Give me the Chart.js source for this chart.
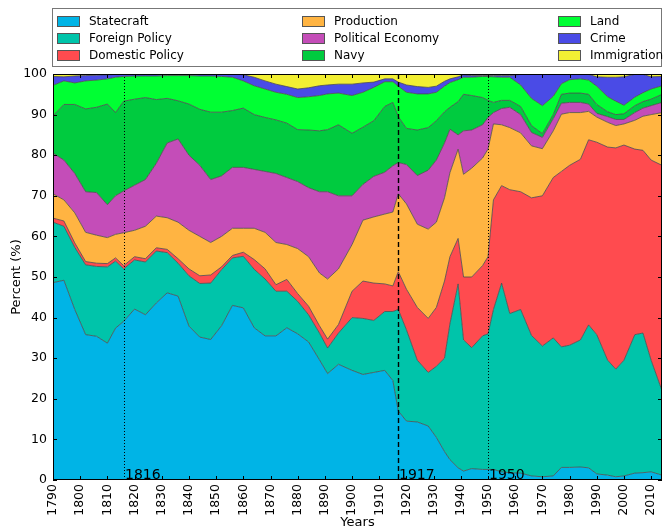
<!DOCTYPE html>
<html>
<head>
<meta charset="utf-8">
<script src="https://cdn.jsdelivr.net/npm/chart.js@4.4.1/dist/chart.umd.min.js"></script>
<style>
html, body { margin: 0; padding: 0; background: #fff; overflow: hidden; }
#wrap { position: relative; width: 666px; height: 528px; }
#legend {
    position: absolute; left: 52px; top: 8px; width: 610px; height: 59px;
    border: 1px solid #777; background: #fff; box-sizing: border-box;
    font: 12px "DejaVu Sans", sans-serif; color: #000; z-index: 2;
}
.item { position: absolute; height: 17px; line-height: 17px; white-space: nowrap; }
.sw { position: absolute; left: 0; top: 3px; width: 23px; height: 11px; border: 1px solid #555; box-sizing: border-box; }
.lbl { position: absolute; left: 32px; top: 0; }
</style>
</head>
<body>
<div id="wrap">
    <div id="legend"></div>
    <canvas id="chart" width="666" height="528"></canvas>
</div>
<script>
// Years sampled along the x axis
const years = [1790, 1794, 1798, 1802, 1806, 1810, 1813, 1816,
    1820, 1824, 1828, 1832, 1836, 1840, 1844, 1848, 1852, 1856, 1860, 1864, 1868, 1872, 1876, 1880, 1884, 1888,
    1891, 1895, 1900, 1904, 1908, 1912, 1915, 1917, 1920, 1924, 1928, 1931, 1934, 1936, 1939, 1941, 1944, 1948, 1950, 1952, 1955, 1958,
    1962, 1966, 1970, 1974, 1977, 1980, 1984, 1987, 1990, 1994, 1997, 2000, 2004, 2007, 2010, 2014];

// Share of each topic (percent), bottom of the stack first
const statecraft = [48.6, 49.2, 42, 35.8, 35.4, 33.7, 37.4, 39.1,
    42.1, 40.7, 43.6, 46.1, 45.3, 37.9, 35.2, 34.6, 38, 43, 42.4, 37.5, 35.5, 35.5, 37.5, 36, 34, 29.6,
    26.2, 28.5, 27, 26, 26.5, 27, 24.5, 17, 14.5, 14.3, 13.3, 10.5, 7, 5, 3, 2.2, 2.8, 2.6, 2.6, 2.6, 2, 1.8,
    1.7, 1, 0.8, 1, 3.1, 3.1, 3.2, 3, 1.5, 1.2, 0.8, 1, 1.7, 1.8, 2, 1.2];
const foreignPolicy = [14.9, 13.3, 15.3, 17.2, 17.2, 18.8, 16.5, 12.9,
    12.1, 13.0, 12.8, 9.9, 8.1, 12.4, 13.2, 13.9, 13.8, 11.7, 12.7, 14.4, 14.0, 11.0, 9.0, 8.0, 6.7, 6.6,
    6.3, 7.7, 13.0, 13.8, 12.8, 14.5, 17.0, 25.0, 22.5, 15.2, 13.2, 17.5, 23.0, 33.5, 45.3, 32.3, 29.8, 32.9, 33.4, 39.4, 46.5, 39.2,
    40.3, 34.6, 32.2, 34.0, 29.7, 30.1, 31.3, 35.2, 34.3, 28.3, 26.5, 28.5, 34.1, 34.4, 27.5, 20.8];
const domesticPolicy = [1.0, 1.3, 1.1, 0.8, 0.8, 0.8, 0.8, 0.8,
    0.8, 0.8, 0.8, 0.8, 1.1, 1.7, 1.9, 2.0, 0.7, 0.6, 1.0, 2.4, 2.5, 1.6, 2.9, 1.9, 2.1, 1.8,
    2.2, 2.1, 6.5, 9.2, 9.2, 6.8, 6.3, 9.3, 10.0, 13.0, 13.3, 14.5, 19.0, 16.5, 11.2, 15.5, 17.4, 17.3, 19.0, 27.0, 24.0, 30.5,
    29.0, 33.9, 37.0, 39.5, 43.2, 44.3, 44.5, 45.6, 47.4, 52.5, 54.5, 53.0, 45.7, 45.0, 49.3, 55.5];
const production = [6.0, 5.2, 7.4, 7.2, 6.9, 6.4, 5.8, 8.1,
    6.5, 8.0, 7.8, 7.8, 9.0, 9.5, 9.7, 8.0, 7.5, 6.7, 5.9, 7.7, 9.0, 10.4, 8.6, 11.1, 12.2, 13.0,
    14.8, 13.7, 11.5, 15.0, 16.3, 17.2, 18.2, 19.2, 21.0, 20.5, 22.0, 21.0, 20.5, 20.7, 22.0, 25.3, 26.8, 26.5, 26.5, 18.7, 15.0, 15.3,
    14.5, 12.8, 11.6, 11.5, 14.1, 13.0, 11.5, 7.0, 6.2, 6.1, 5.5, 5.2, 7.1, 8.4, 11.2, 13.0];
const politicalEconomy = [10.0, 9.8, 9.7, 10.0, 10.5, 8.1, 9.5, 10.3,
    11.1, 11.5, 13.0, 18.4, 20.5, 18.5, 17.5, 15.5, 14.9, 15.0, 15.0, 14.5, 15.0, 17.0, 16.5, 16.5, 17.0, 20.0,
    21.5, 18.0, 12.0, 8.8, 10.0, 10.3, 11.4, 7.7, 9.7, 12.0, 14.5, 15.3, 13.5, 10.7, 3.5, 10.7, 9.4, 8.2, 7.8, 2.8, 4.0, 5.0,
    4.5, 3.3, 2.8, 3.0, 2.7, 2.5, 2.5, 1.8, 0.9, 1.4, 1.5, 1.1, 1.9, 2.0, 2.2, 2.5];
const navy = [9.2, 13.7, 17.0, 20.4, 21.0, 24.8, 20.5, 22.1,
    21.2, 20.2, 15.7, 11.0, 9.4, 12.6, 13.8, 16.6, 15.7, 14.0, 14.6, 13.5, 13.3, 13.2, 13.4, 12.8, 14.2, 15.0,
    15.3, 17.5, 15.4, 14.1, 13.7, 16.2, 15.6, 11.3, 8.9, 11.2, 10.5, 9.7, 7.7, 5.4, 8.2, 9.0, 8.5, 6.7, 4.2, 2.5, 2.0, 1.7,
    2.0, 1.7, 0.9, 1.0, 2.2, 2.3, 2.3, 2.4, 2.2, 1.2, 1.2, 1.4, 1.7, 1.6, 1.6, 2.0];
const land = [7.5, 5.8, 5.3, 6.9, 6.7, 6.2, 8.7, 6.1,
    5.7, 5.3, 5.8, 5.6, 6.2, 7.0, 8.2, 8.9, 8.8, 8.2, 6.7, 7.1, 7.0, 6.8, 7.1, 7.9, 8.2, 8.7,
    8.8, 7.8, 9.3, 8.6, 8.2, 6.1, 5.1, 7.5, 8.9, 8.9, 8.3, 7.0, 6.3, 6.1, 5.4, 4.2, 4.5, 5.2, 5.9, 6.3, 5.7, 5.7,
    5.3, 6.7, 6.9, 4.5, 2.6, 3.3, 3.5, 3.5, 4.5, 3.7, 3.3, 2.1, 2.1, 2.2, 2.5, 2.1];
const crime = [2.2, 1.0, 1.7, 1.3, 1.2, 1.0, 0.7, 0.6,
    0.5, 0.5, 0.5, 0.4, 0.4, 0.4, 0.5, 0.5, 0.6, 0.8, 1.5, 2.1, 2.0, 2.0, 1.9, 2.1, 2.2, 2.4,
    2.2, 2.2, 2.8, 2.3, 1.3, 0.7, 0.7, 1.0, 1.8, 1.8, 1.6, 1.5, 1.2, 0.9, 0.7, 0.6, 0.4, 0.2, 0.2, 0.3, 0.4, 0.4,
    2.6, 5.9, 7.7, 5.4, 2.3, 1.3, 1.1, 1.4, 2.3, 4.8, 5.9, 7.0, 5.6, 4.5, 3.0, 2.3];
const immigration = [0.6, 0.7, 0.5, 0.4, 0.3, 0.2, 0.1, 0,
    0, 0, 0, 0, 0, 0, 0, 0, 0, 0, 0.2, 0.8, 1.7, 2.5, 3.1, 3.7, 3.4, 2.9,
    2.7, 2.5, 2.5, 2.2, 2.0, 1.2, 1.2, 2.0, 2.7, 3.1, 3.3, 3.0, 1.8, 1.2, 0.7, 0.2, 0.4, 0.4, 0.4, 0.4, 0.4, 0.4,
    0.1, 0.1, 0.1, 0.1, 0.1, 0.1, 0.1, 0.1, 0.7, 0.8, 0.8, 0.7, 0.1, 0.1, 0.7, 0.6];

const seriesNames = ['Statecraft', 'Foreign Policy', 'Domestic Policy', 'Production', 'Political Economy',
    'Navy', 'Land', 'Crime', 'Immigration'];
const seriesValues = [statecraft, foreignPolicy, domesticPolicy, production, politicalEconomy,
    navy, land, crime, immigration];
const seriesColors = ['#00b4e6', '#00c4aa', '#ff4b4f', '#ffb442', '#c44db8',
    '#00cb3f', '#00ff33', '#4a4be6', '#f2ef33'];

const xTicks = [1790, 1800, 1810, 1820, 1830, 1840, 1850, 1860, 1870, 1880, 1890,
    1900, 1910, 1920, 1930, 1940, 1950, 1960, 1970, 1980, 1990, 2000, 2010];
const yTicks = [0, 10, 20, 30, 40, 50, 60, 70, 80, 90, 100];

// Reference years marked with vertical lines
const markerYears = [1816, 1917, 1950];
const markerDash = [[1, 2], [5, 3], [1, 2]];
const markerWidth = [1, 1.4, 1];

// Legend (3 columns, filled column by column)
const legend = document.getElementById('legend');
const colLeft = [4, 249, 505];
const rowTop = [4, 21, 38];
seriesNames.forEach((name, i) => {
    const col = Math.floor(i / 3), row = i % 3;
    const item = document.createElement('div');
    item.className = 'item';
    item.style.left = colLeft[col] + 'px';
    item.style.top = rowTop[row] + 'px';
    item.innerHTML = `<span class="sw" style="background:${seriesColors[i]}"></span><span class="lbl">${name}</span>`;
    legend.appendChild(item);
});

// Frame, inward ticks and marker lines drawn over the areas
const axisFrame = {
    id: 'axisFrame',
    afterDatasetsDraw(chart) {
        const { ctx, chartArea: a, scales } = chart;
        const x = scales.x, y = scales.y;
        ctx.save();
        ctx.strokeStyle = '#000';
        ctx.fillStyle = '#000';
        markerYears.forEach((yr, i) => {
            const px = Math.round(x.getPixelForValue(yr)) + 0.5;
            ctx.lineWidth = markerWidth[i];
            ctx.setLineDash(markerDash[i]);
            ctx.beginPath();
            ctx.moveTo(px, a.top);
            ctx.lineTo(px, a.bottom);
            ctx.stroke();
            ctx.font = '14px "DejaVu Sans"';
            ctx.textAlign = 'left';
            ctx.textBaseline = 'alphabetic';
            ctx.fillText(String(yr), px + 0.5, a.bottom - 1);
        });
        ctx.setLineDash([]);
        ctx.lineWidth = 1;
        ctx.beginPath();
        xTicks.forEach(v => {
            const px = Math.round(x.getPixelForValue(v)) + 0.5;
            ctx.moveTo(px, a.bottom); ctx.lineTo(px, a.bottom - 4);
            ctx.moveTo(px, a.top); ctx.lineTo(px, a.top + 4);
        });
        yTicks.forEach(v => {
            const py = Math.round(y.getPixelForValue(v)) + 0.5;
            ctx.moveTo(a.left, py); ctx.lineTo(a.left + 4, py);
            ctx.moveTo(a.right, py); ctx.lineTo(a.right - 4, py);
        });
        ctx.stroke();
        ctx.strokeRect(a.left + 0.5, a.top + 0.5, a.right - a.left - 1, a.bottom - a.top - 1);
        ctx.restore();
    }
};

const datasets = seriesNames.map((name, i) => ({
    label: name,
    data: seriesValues[i].map((v, j) => ({ x: years[j], y: v })),
    backgroundColor: seriesColors[i],
    borderColor: '#4a4a4a',
    borderWidth: 0.8,
    pointRadius: 0,
    tension: 0,
    fill: i === 0 ? 'origin' : '-1'
}));

const tickFont = { family: 'DejaVu Sans', size: 12.5 };

new Chart(document.getElementById('chart'), {
    type: 'line',
    data: { datasets },
    plugins: [axisFrame],
    options: {
        responsive: false,
        animation: false,
        devicePixelRatio: 1,
        layout: { padding: { top: 74, right: 4, left: 0, bottom: 0 } },
        plugins: {
            legend: { display: false },
            tooltip: { enabled: false }
        },
        scales: {
            x: {
                type: 'linear',
                min: 1790,
                max: 2014,
                grid: { display: false, drawTicks: false },
                border: { display: false },
                afterBuildTicks: s => { s.ticks = xTicks.map(v => ({ value: v })); },
                afterFit: s => { s.height = 48; s.paddingLeft = 0; s.paddingRight = 0; },
                ticks: {
                    color: '#000',
                    font: tickFont,
                    padding: 4,
                    autoSkip: false,
                    maxRotation: 90,
                    minRotation: 90,
                    callback: v => String(v)
                },
                title: {
                    display: true,
                    text: 'Years',
                    color: '#000',
                    font: { family: 'DejaVu Sans', size: 13 },
                    padding: { top: 0, bottom: -2 }
                }
            },
            y: {
                stacked: true,
                min: 0,
                max: 100,
                grid: { display: false, drawTicks: false },
                border: { display: false },
                afterBuildTicks: s => { s.ticks = yTicks.map(v => ({ value: v })); },
                afterFit: s => { s.width = 53; },
                ticks: {
                    color: '#000',
                    font: tickFont,
                    padding: 6
                },
                title: {
                    display: true,
                    text: 'Percent (%)',
                    color: '#000',
                    font: { family: 'DejaVu Sans', size: 13 },
                    padding: { top: 9, bottom: 0 }
                }
            }
        }
    }
});
</script>
</body>
</html>
